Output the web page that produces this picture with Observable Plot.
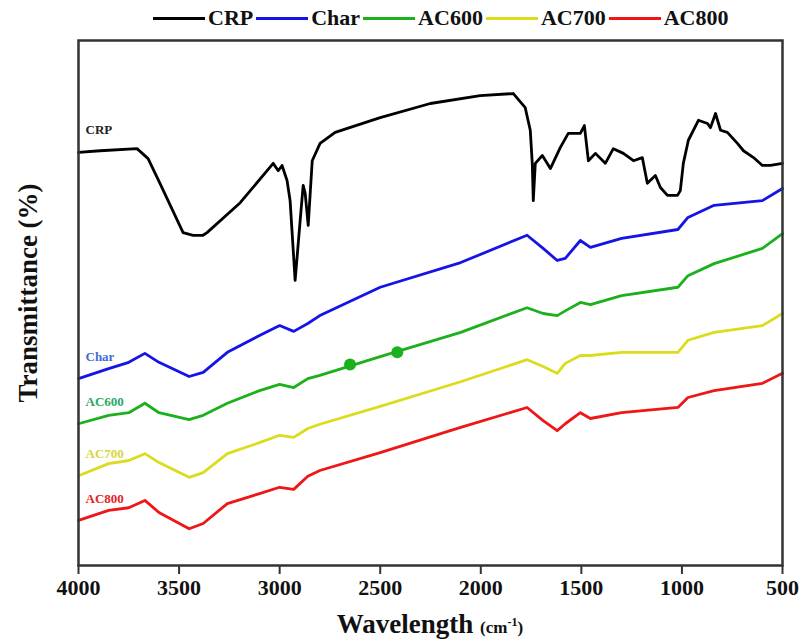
<!DOCTYPE html>
<html><head><meta charset="utf-8">
<script src="https://cdn.jsdelivr.net/npm/d3@7"></script>
<script src="https://cdn.jsdelivr.net/npm/@observablehq/plot@0.6"></script>
<style>
body{margin:0;background:#fff;width:803px;height:641px;overflow:hidden;font-family:"Liberation Serif","Times New Roman",serif;}
#legend{height:36px;display:flex;align-items:center;padding-left:150px;font-weight:bold;font-size:22px;color:#111;white-space:nowrap;}
#legend .sw{display:inline-block;width:52px;height:3px;margin:0 3px;}
#xlabel{height:36px;padding-left:78px;padding-right:21px;text-align:center;font-weight:bold;color:#111;line-height:34px;}
#xlabel .big{font-size:27px;}
#xlabel .small{font-size:17px;}
#xlabel sup{font-size:12px;}
</style></head>
<body>
<div id="legend"></div>
<div id="chart"></div>
<div id="xlabel"><span class="big">Wavelength </span><span class="small">(cm<sup>-1</sup>)</span></div>
<script>
const seriesNames = ["CRP","Char","AC600","AC700","AC800"];
const seriesColors = ["#000000","#1414e6","#1cb01c","#dcdc1e","#ee1616"];
const labelColors = ["#222222","#3c6ed2","#2aa866","#d6d63a","#e22424"];
const xTicks = [4000,3500,3000,2500,2000,1500,1000,500];

const crpWave = [4000,3893,3709,3654,3595,3480,3430,3381,3361,3196,3032,3007,2988,2963,2948,2923,2898,2883,2873,2858,2838,2799,2724,2500,2251,2003,1838,1779,1754,1744,1739,1729,1694,1654,1605,1565,1505,1485,1465,1430,1381,1341,1291,1241,1197,1172,1132,1107,1072,1022,1008,993,968,918,873,858,833,808,774,724,694,644,600,560,500];
const crpT = [78.7,79.0,79.4,77.5,72.8,63.4,62.9,62.9,63.4,69.1,76.6,75.2,76.2,73.3,69.5,54.3,65.7,72.4,70.9,64.8,77.1,80.4,82.5,85.3,88.0,89.5,89.9,87.2,82.9,76.6,69.5,76.6,78.1,75.6,79.6,82.3,82.3,83.8,77.1,78.5,76.6,79.4,78.5,77.1,77.7,72.8,74.3,72.0,70.5,70.5,71.4,76.6,81.0,84.8,84.2,83.4,86.1,82.9,82.5,80.4,79.0,77.7,76.2,76.2,76.6];

const carbonWave = [4000,3850,3750,3670,3600,3450,3380,3260,3100,3000,2930,2860,2800,2500,2100,1770,1690,1620,1580,1505,1455,1300,1020,970,840,600,500];
const charT  = [35.6,37.5,38.7,40.4,38.7,36.0,36.8,40.6,43.8,45.7,44.6,46.1,47.6,53.0,57.7,62.9,60.4,58.1,58.5,61.9,60.6,62.3,64.0,66.3,68.6,69.5,71.8];
const ac600T = [27.0,28.6,29.1,30.9,29.1,27.8,28.6,30.9,33.3,34.5,33.9,35.6,36.2,39.8,44.4,49.1,48.0,47.6,48.5,50.1,49.7,51.4,53.0,55.2,57.5,60.4,63.2];
const ac700T = [17.1,19.4,20.0,21.3,19.6,16.8,17.7,21.3,23.4,24.8,24.4,26.1,26.9,30.3,35.0,39.2,37.9,36.6,38.5,40.0,40.0,40.6,40.6,42.9,44.4,45.7,48.0];
const ac800T = [8.6,10.5,11.0,12.4,10.1,7.0,8.0,11.8,13.7,14.9,14.5,17.0,18.1,21.5,26.3,30.1,27.6,25.7,27.0,29.1,28.0,29.1,30.1,32.0,33.3,34.7,36.6];

const dotWave = [2650,2415];
const dotT = [38.3,40.6];

const waveOf = {CRP: crpWave, Char: carbonWave, AC600: carbonWave, AC700: carbonWave, AC800: carbonWave};
const valOf = {CRP: crpT, Char: charT, AC600: ac600T, AC700: ac700T, AC800: ac800T};

const rows = seriesNames.flatMap(s => waveOf[s].map((w, i) => ({s, w, t: valOf[s][i]})));
const labels = seriesNames.map((s, i) => ({s, w: waveOf[s][0], t: valOf[s][0], c: labelColors[i]}));
const dots = dotWave.map((w, i) => ({w, t: dotT[i]}));

// legend
const lg = document.getElementById("legend");
seriesNames.forEach((s, i) => {
  const sw = document.createElement("span"); sw.className = "sw"; sw.style.background = seriesColors[i];
  const tx = document.createElement("span"); tx.textContent = s;
  lg.appendChild(sw); lg.appendChild(tx);
});

const chart = Plot.plot({
  width: 803, height: 569,
  marginTop: 4, marginBottom: 40, marginLeft: 78, marginRight: 21,
  x: {domain: [4000, 500]},
  y: {domain: [0, 100], axis: null},
  color: {domain: seriesNames, range: seriesColors},
  style: {fontFamily: '"Liberation Serif","Times New Roman",serif', background: "#fff"},
  marks: [
    Plot.line(rows, {x: "w", y: "t", z: "s", stroke: "s", strokeWidth: 2.8, strokeLinejoin: "round"}),
    Plot.dot(dots, {x: "w", y: "t", r: 6, fill: seriesColors[2]}),
    Plot.text(labels, {x: "w", y: "t", text: "s", fill: "c", dx: 7, dy: -22, textAnchor: "start", fontSize: 13, fontWeight: "bold"}),
    Plot.frame({stroke: "#333", strokeWidth: 2.5}),
    Plot.axisX({ticks: xTicks, tickFormat: d => String(d), tickSize: 9, tickPadding: 5, fontSize: 22, fontWeight: "bold", label: null, stroke: "#333", strokeWidth: 2, color: "#111"}),
    Plot.text(["Transmittance (%)"], {frameAnchor: "left", text: d => d, rotate: -90, textAnchor: "middle", dx: -50, dy: -10, fontSize: 27, fontWeight: "bold", fill: "#111"})
  ]
});
document.getElementById("chart").appendChild(chart);
</script>
</body></html>
